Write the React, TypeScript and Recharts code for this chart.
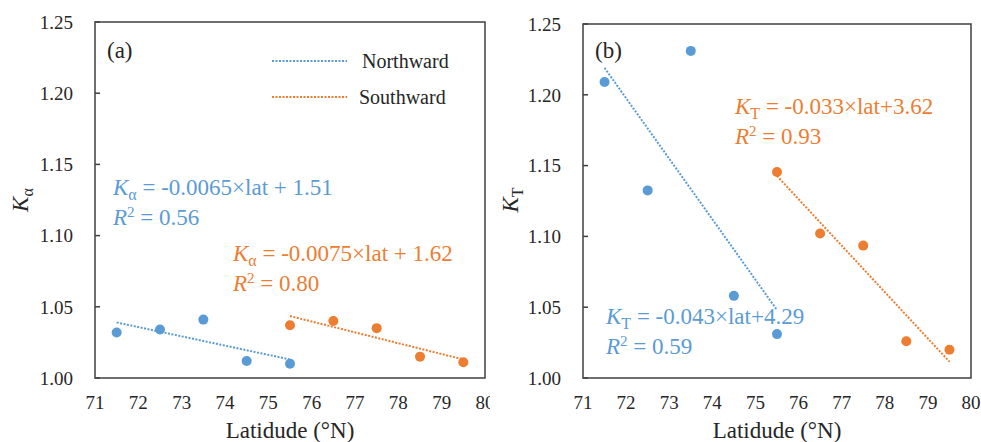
import React from 'react';
import { ScatterChart, Scatter, XAxis, YAxis, ReferenceArea, Customized } from 'recharts';

const latNorth = [71.5, 72.5, 73.5, 74.5, 75.5];
const latSouth = [75.5, 76.5, 77.5, 78.5, 79.5];
const kAlphaNorth = [1.032, 1.034, 1.041, 1.012, 1.010];
const kAlphaSouth = [1.037, 1.040, 1.035, 1.015, 1.011];
const kTNorth = [1.209, 1.1325, 1.231, 1.058, 1.031];
const kTSouth = [1.1455, 1.102, 1.0935, 1.026, 1.020];
const trendLatNorth = [71.5, 75.5];
const trendLatSouth = [75.5, 79.5];
const kAlphaNorthTrend = [1.039, 1.013];
const kAlphaSouthTrend = [1.0435, 1.013];
const kTNorthTrend = [1.219, 1.048];
const kTSouthTrend = [1.1427, 1.0115];
const xTicks = [71, 72, 73, 74, 75, 76, 77, 78, 79, 80];
const yTicks = [1.0, 1.05, 1.1, 1.15, 1.2, 1.25];
const seriesNames = ['Northward', 'Southward'];

const BLUE = '#5B9BD5';
const ORANGE = '#ED7D31';
const FONT = 'Liberation Serif, Times New Roman, DejaVu Serif, serif';
const TXT = '#262626';

const zip = (xs: number[], ys: number[]) => xs.map((x, i) => ({ x, y: ys[i] }));

const noShape = () => null as any;

type Eq = { x: number; y: number; color: string; rest: string; r2: string };

function Panel(props: {
  left: number; width: number; top: number; right: number; yAxisWidth: number;
  north: number[]; south: number[]; northTrend: number[]; southTrend: number[];
  tag: string; ySub: string; eqs: Eq[]; legend?: boolean;
}) {
  const { width, top, right, yAxisWidth } = props;
  const height = 442;
  const plotL = yAxisWidth;
  const plotR = width - right;
  const cx = (plotL + plotR) / 2;
  const overlay = () => (
    <g>
      <text x={plotL + 12} y={58} fontSize={23} fill={TXT} fontFamily={FONT}>{props.tag}</text>
      <text x={cx} y={438} fontSize={23} fill={TXT} textAnchor="middle" fontFamily={FONT}>Latidude (°N)</text>
      <text transform="rotate(-90, 28, 200)" x={28} y={200} fontSize={23} fill={TXT} textAnchor="middle" fontFamily={FONT}>
        <tspan fontStyle="italic">K</tspan>
        <tspan fontSize={16} dy={5}>{props.ySub}</tspan>
      </text>
      {props.eqs.map((e, i) => (
        <g key={i} fill={e.color}>
          <text x={e.x} y={e.y} fontSize={23} fontFamily={FONT}>
            <tspan fontStyle="italic">K</tspan>
            <tspan fontSize={16} dy={5}>{props.ySub}</tspan>
            <tspan dy={-5}>{e.rest}</tspan>
          </text>
          <text x={e.x} y={e.y + 30} fontSize={23} fontFamily={FONT}>
            <tspan fontStyle="italic">R</tspan>
            <tspan fontSize={15} dy={-8}>2</tspan>
            <tspan dy={8}>{' = ' + e.r2}</tspan>
          </text>
        </g>
      ))}
      {props.legend && (
        <g>
          <line x1={272} x2={347} y1={61} y2={61} stroke={BLUE} strokeWidth={2} strokeDasharray="2 1.5" />
          <text x={362} y={68} fontSize={20} fill={TXT} fontFamily={FONT}>{seriesNames[0]}</text>
          <line x1={272} x2={347} y1={97} y2={97} stroke={ORANGE} strokeWidth={2} strokeDasharray="2 1.5" />
          <text x={359} y={104} fontSize={20} fill={TXT} fontFamily={FONT}>{seriesNames[1]}</text>
        </g>
      )}
    </g>
  );
  return (
    <div style={{ position: 'absolute', left: props.left, top: 0, fontFamily: FONT }}>
      <ScatterChart width={width} height={height} margin={{ top, right, bottom: 0, left: 0 }} style={{ fontFamily: FONT }}>
        <XAxis
          type="number" dataKey="x" domain={[71, 80]} ticks={xTicks} interval={0}
          height={height - 378} axisLine={false} tickLine={false} tickMargin={12}
          tick={{ fontSize: 19, fill: TXT, fontFamily: FONT }} allowDataOverflow
        />
        <YAxis
          type="number" dataKey="y" domain={[1, 1.25]} ticks={yTicks} interval={0}
          width={yAxisWidth} axisLine={false} tickSize={-5} tickMargin={27}
          tickLine={{ stroke: '#404040', strokeWidth: 1.5 }}
          tickFormatter={(v: number) => v.toFixed(2)}
          tick={{ fontSize: 19, fill: TXT, fontFamily: FONT }} allowDataOverflow
        />
        <ReferenceArea x1={71} x2={80} y1={1} y2={1.25} fill="none" stroke="#404040" strokeWidth={1.5} ifOverflow="visible" />
        <Scatter data={zip(trendLatNorth, props.northTrend)} shape={noShape}
          line={{ stroke: BLUE, strokeWidth: 2, strokeDasharray: '2 1.5' }} isAnimationActive={false} />
        <Scatter data={zip(trendLatSouth, props.southTrend)} shape={noShape}
          line={{ stroke: ORANGE, strokeWidth: 2, strokeDasharray: '2 1.5' }} isAnimationActive={false} />
        <Scatter data={zip(latNorth, props.north)} fill={BLUE} shape={(p: any) => <circle cx={p.cx} cy={p.cy} r={5} fill={BLUE} />} isAnimationActive={false} />
        <Scatter data={zip(latSouth, props.south)} fill={ORANGE} shape={(p: any) => <circle cx={p.cx} cy={p.cy} r={5} fill={ORANGE} />} isAnimationActive={false} />
        <Customized component={overlay} />
      </ScatterChart>
    </div>
  );
}

export default function App() {
  return (
    <div style={{ position: 'absolute', left: 0, top: 0, width: 981, height: 442, background: '#fff', fontFamily: FONT }}>
      <Panel
        left={0} width={490} top={22} right={5} yAxisWidth={95}
        north={kAlphaNorth} south={kAlphaSouth} northTrend={kAlphaNorthTrend} southTrend={kAlphaSouthTrend}
        tag="(a)" ySub="α" legend
        eqs={[
          { x: 113, y: 195, color: BLUE, rest: ' = -0.0065×lat + 1.51', r2: '0.56' },
          { x: 233, y: 261, color: ORANGE, rest: ' = -0.0075×lat + 1.62', r2: '0.80' },
        ]}
      />
      <Panel
        left={490} width={491} top={24} right={10} yAxisWidth={93}
        north={kTNorth} south={kTSouth} northTrend={kTNorthTrend} southTrend={kTSouthTrend}
        tag="(b)" ySub="T"
        eqs={[
          { x: 245, y: 114, color: ORANGE, rest: ' = -0.033×lat+3.62', r2: '0.93' },
          { x: 116, y: 324, color: BLUE, rest: ' = -0.043×lat+4.29', r2: '0.59' },
        ]}
      />
    </div>
  );
}
